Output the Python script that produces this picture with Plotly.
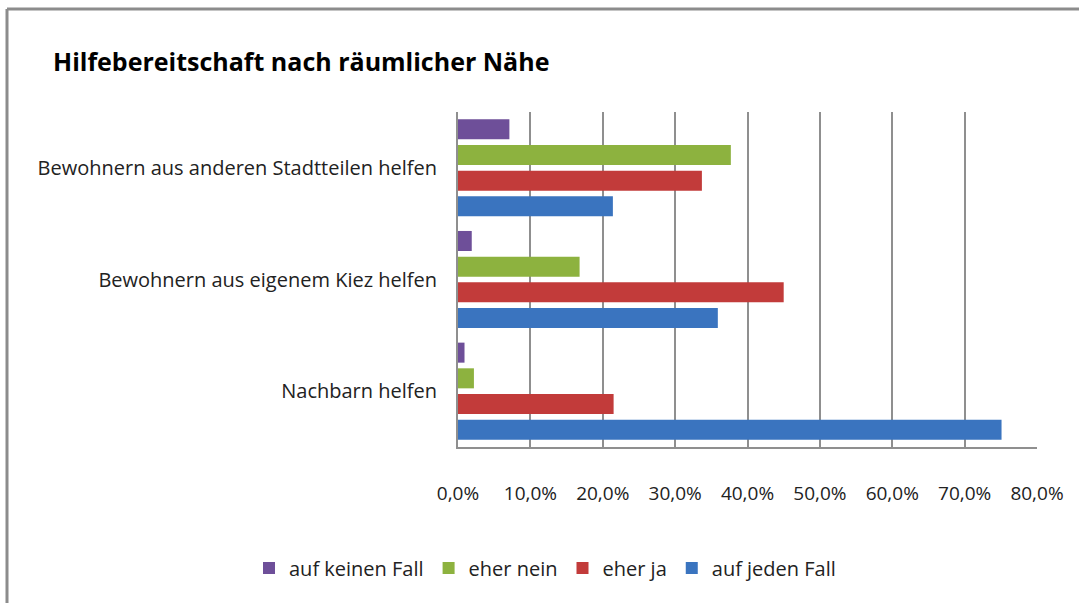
import plotly.graph_objects as go

categories = ["Nachbarn helfen", "Bewohnern aus eigenem Kiez helfen",
              "Bewohnern aus anderen Stadtteilen helfen"]
series_names = ["auf jeden Fall", "eher ja", "eher nein", "auf keinen Fall"]
auf_jeden_fall = [75.1, 35.9, 21.4]
eher_ja = [21.5, 45.0, 33.7]
eher_nein = [2.2, 16.8, 37.7]
auf_keinen_fall = [0.9, 1.9, 7.1]
colors = ["#3a74bf", "#c23b3a", "#8db23f", "#6e4f99"]
tick_vals = [0, 10, 20, 30, 40, 50, 60, 70, 80]
tick_text = ["0,0%", "10,0%", "20,0%", "30,0%", "40,0%", "50,0%", "60,0%", "70,0%", "80,0%"]

FONT = "Open Sans, Liberation Sans Narrow, sans-serif"

fig = go.Figure()
for name, vals, col in zip(series_names,
                           [auf_jeden_fall, eher_ja, eher_nein, auf_keinen_fall],
                           colors):
    fig.add_trace(go.Bar(y=categories, x=vals, name=name, orientation="h",
                         marker=dict(color=col, line=dict(width=0))))

W, H = 1079, 603
L, R, T, B = 458, 1037, 112, 447

fig.update_layout(
    width=W, height=H,
    margin=dict(l=L, r=W - R, t=T, b=H - B, autoexpand=False),
    paper_bgcolor="white", plot_bgcolor="white",
    barmode="group", bargap=0.08, bargroupgap=0.22,
    font=dict(family=FONT, size=20, color="#222222"),
    title=dict(text="<b>Hilfebereitschaft nach räumlicher Nähe</b>",
               x=53 / W, xanchor="left", y=1 - 62 / H, yanchor="middle",
               font=dict(family=FONT, size=25, color="black")),
    legend=dict(orientation="h", traceorder="reversed",
                x=(249 - L) / (R - L), xanchor="left",
                y=(B - 568) / (B - T), yanchor="middle",
                font=dict(family=FONT, size=20, color="#222222"),
                itemwidth=30),
    xaxis=dict(range=[0, 80], tickvals=tick_vals, ticktext=tick_text,
               showgrid=True, gridcolor="#8f8f8f", gridwidth=1.5,
               showline=True, linecolor="#8f8f8f", linewidth=2,
               zeroline=False, ticklabelstandoff=28,
               tickfont=dict(family=FONT, size=19, color="#222222"), fixedrange=True),
    yaxis=dict(showline=True, linecolor="#8f8f8f", linewidth=2, showgrid=False,
               ticks="", ticklabelstandoff=15,
               tickfont=dict(family=FONT, size=20, color="#222222")),
    shapes=[
        dict(type="line", xref="paper", yref="paper",
             x0=(7 - L) / (R - L), x1=(W + 5 - L) / (R - L),
             y0=(B - 9) / (B - T), y1=(B - 9) / (B - T),
             line=dict(color="#8c8c8c", width=3)),
        dict(type="line", xref="paper", yref="paper",
             x0=(7 - L) / (R - L), x1=(7 - L) / (R - L),
             y0=(B - 9) / (B - T), y1=(B - H - 5) / (B - T),
             line=dict(color="#8c8c8c", width=3)),
    ],
)

fig.write_html("out.html", config={"displayModeBar": False},
               post_script="document.body.style.margin='0';document.body.style.overflow='hidden';")
